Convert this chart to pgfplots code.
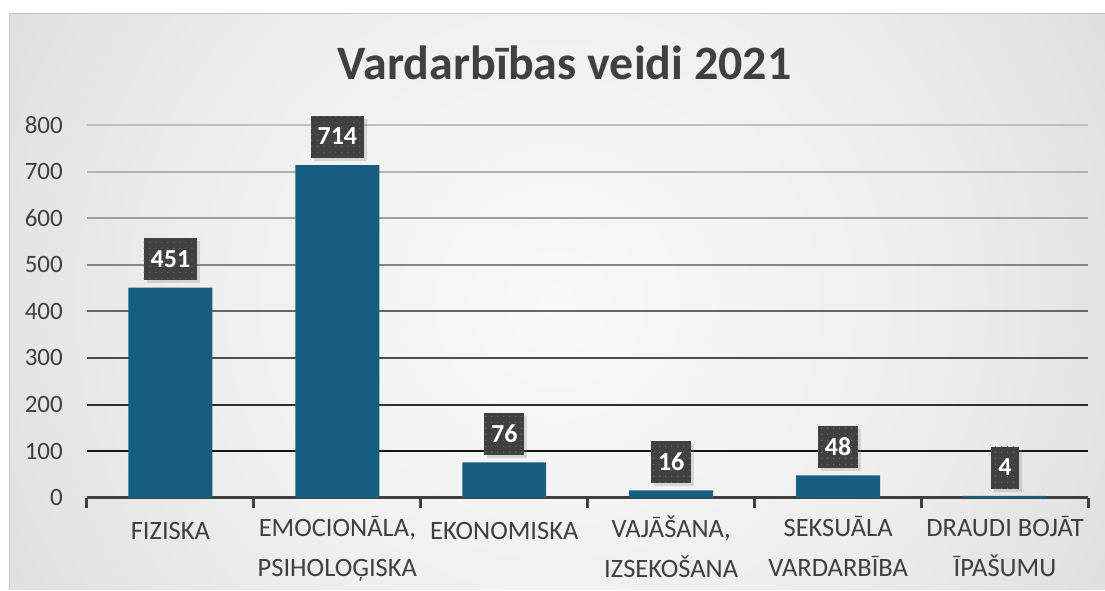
\documentclass[border=0pt]{standalone}
\usepackage{pgfplots}
\pgfplotsset{compat=1.18}
\usepackage{fontspec}
\setmainfont{Carlito}
\usetikzlibrary{shadows,patterns.meta}

\definecolor{barblue}{HTML}{155E80}
\definecolor{darkgray}{HTML}{404040}
\definecolor{bgA}{HTML}{F9F9F9}
\definecolor{bgB}{HTML}{EFEFEF}
\definecolor{bgC}{HTML}{D6D6D6}
\definecolor{bgD}{HTML}{C6C6C6}

\pgfdeclareradialshading{chartbg}{\pgfpoint{0bp}{0bp}}{%
  color(0bp)=(bgA); color(16bp)=(bgB); color(36bp)=(bgC);
  color(50bp)=(bgD); color(60bp)=(bgD!94!black); color(80bp)=(bgD!94!black)}

\begin{document}
\begin{tikzpicture}[x=1pt, y=1pt]
% page and chart area (1 px of the reference = 1 pt)
\fill[white] (0,0) rectangle (1105,590);
\begin{scope}
  \clip (10,0) rectangle (1105,576);
  \shade[shading=chartbg] (10,-250) rectangle (1105,826);
\end{scope}
\draw[black!22, line width=1pt] (10,0) -- (10,576) -- (1105,576);

\node[font=\fontsize{48}{52}\selectfont\bfseries, text=darkgray, anchor=base]
  at (565,510) {Vardarbības veidi 2021};

\begin{axis}[
  at={(87pt,92pt)}, anchor=south west,
  scale only axis, width=1002pt, height=373pt,
  xmin=-0.5, xmax=5.5, ymin=0, ymax=800,
  ybar, bar width=84pt, clip=false,
  /pgf/number format/assume math mode=true,
  xtick={0,...,5},
  xticklabels={FIZISKA, {EMOCIONĀLA,\\[6pt]PSIHOLOĢISKA}, EKONOMISKA,
    {VAJĀŠANA,\\[6pt]IZSEKOŠANA}, {SEKSUĀLA\\[6pt]VARDARBĪBA}, {DRAUDI BOJĀT\\[6pt]ĪPAŠUMU}},
  minor xtick={-0.5,0.5,...,5.5},
  major tick length=0pt, minor tick length=10pt, tick align=outside,
  xtick pos=bottom, ytick pos=left,
  minor tick style={line width=3pt, darkgray},
  ytick={0,100,...,800},
  axis x line*=bottom, axis y line*=left,
  x axis line style={line width=3pt, darkgray, -},
  y axis line style={draw=none},
  xticklabel style={font=\fontsize{26.5}{34}\selectfont, text=darkgray,
    align=center, anchor=north, inner sep=0pt, yshift=-18pt,
    execute at begin node=\strut},
  yticklabel style={font=\fontsize{25}{25}\selectfont, text=darkgray,
    anchor=east, inner sep=0pt, xshift=-24pt},
  nodes near coords,
  every node near coord/.append style={
    anchor=south, yshift=7pt, fill=darkgray, text=white,
    font=\fontsize{26}{26}\selectfont\bfseries,
    inner xsep=7pt, inner ysep=0pt, minimum height=42pt,
    text height=16pt, text depth=0pt,
    drop shadow={shadow xshift=3pt, shadow yshift=-3pt, opacity=0.25},
    postaction={pattern={Dots[distance=6pt, radius=0.6pt]}, pattern color=black!55}},
]
% gridlines, light at the top and dark at the bottom
\draw[line width=2pt, black!25] (axis cs:-0.5,800) -- (axis cs:5.5,800);
\draw[line width=2pt, black!30] (axis cs:-0.5,700) -- (axis cs:5.5,700);
\draw[line width=2pt, black!38] (axis cs:-0.5,600) -- (axis cs:5.5,600);
\draw[line width=2pt, black!48] (axis cs:-0.5,500) -- (axis cs:5.5,500);
\draw[line width=2pt, black!60] (axis cs:-0.5,400) -- (axis cs:5.5,400);
\draw[line width=2pt, black!70] (axis cs:-0.5,300) -- (axis cs:5.5,300);
\draw[line width=2pt, black!82] (axis cs:-0.5,200) -- (axis cs:5.5,200);
\draw[line width=2pt, black!92] (axis cs:-0.5,100) -- (axis cs:5.5,100);
\addplot[fill=barblue, draw=none] coordinates {
  (0,451) (1,714) (2,76) (3,16) (4,48) (5,4)};
\end{axis}
\end{tikzpicture}
\end{document}
